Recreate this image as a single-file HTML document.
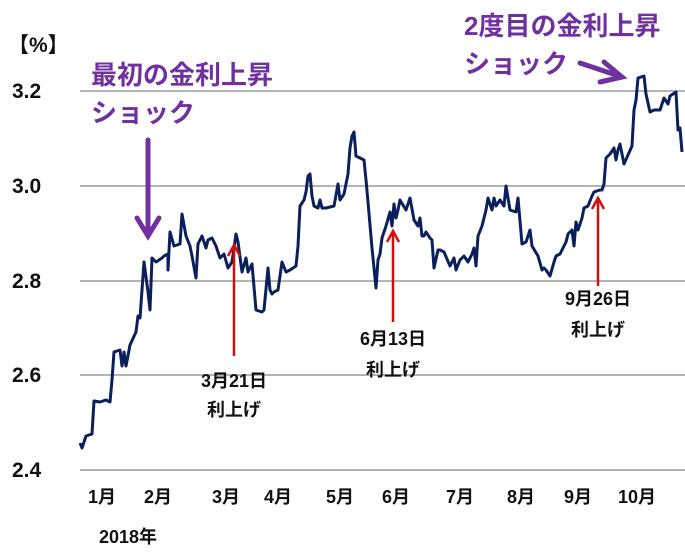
<!DOCTYPE html>
<html><head><meta charset="utf-8"><style>
body{margin:0;background:#fff;}
svg text{font-family:"Liberation Sans","Noto Sans CJK JP",sans-serif;font-weight:bold;}
</style></head><body>
<svg width="685" height="549" viewBox="0 0 685 549" xmlns="http://www.w3.org/2000/svg">
<g stroke="#888" stroke-width="1.2">
<line x1="80" y1="91" x2="690" y2="91"/><line x1="80" y1="186" x2="690" y2="186"/>
<line x1="80" y1="281" x2="690" y2="281"/><line x1="80" y1="375" x2="690" y2="375"/>
<line x1="80" y1="470" x2="690" y2="470"/></g>
<g font-size="21" fill="#111">
<text x="8" y="52">【%】</text>
<text x="12" y="98">3.2</text><text x="12" y="193">3.0</text><text x="12" y="288">2.8</text>
<text x="12" y="382">2.6</text><text x="12" y="477">2.4</text></g>
<g font-size="18" fill="#111" text-anchor="middle">
<text x="102" y="503">1月</text><text x="158" y="503">2月</text><text x="226" y="503">3月</text>
<text x="278" y="503">4月</text><text x="340" y="503">5月</text><text x="396" y="503">6月</text>
<text x="460" y="503">7月</text><text x="521" y="503">8月</text><text x="578" y="503">9月</text>
<text x="637" y="503">10月</text><text x="128" y="543">2018年</text>
<text x="234" y="387">3月21日</text><text x="234" y="416">利上げ</text>
<text x="393" y="345">6月13日</text><text x="393" y="376">利上げ</text>
<text x="598" y="305">9月26日</text><text x="598" y="336">利上げ</text></g>
<polyline fill="none" stroke="#0a1f5c" stroke-width="3" stroke-linejoin="round" points="80,443 82,448 86,436 92,434 94,401 100,402 106,400 110,402 112,380 114,352 120,350 122,366 124,352 126,366 130,345 136,332 138,316 140,318 144,262 148,292 150,310 152,258 156,262 162,258 164,256 168,254 168,270 170,232 174,246 180,244 182,214 186,236 190,246 192,256 196,278 198,244 202,236 206,248 208,240 212,238 216,246 220,258 224,254 228,268 232,262 236,234 238,242 242,272 246,258 248,272 252,264 256,310 262,312 264,310 268,268 270,290 272,294 274,292 278,290 282,262 286,272 290,270 296,266 298,246 300,206 304,200 306,192 308,176 310,174 312,196 314,206 318,208 320,200 322,208 326,208 334,206 338,184 340,200 344,194 348,174 350,148 352,136 354,132 356,156 360,158 364,160 366,180 368,202 372,248 376,288 378,260 380,254 382,238 386,226 390,212 392,226 394,204 396,218 398,210 400,200 406,210 410,198 414,220 418,226 420,218 422,236 424,236 426,232 430,238 432,240 434,268 438,250 440,250 444,252 450,266 454,258 456,270 460,260 464,256 468,262 472,254 474,248 476,266 478,236 482,226 486,210 488,198 492,210 494,198 496,206 500,200 504,206 506,186 510,210 516,212 518,198 522,244 526,242 530,230 532,246 538,256 542,270 544,268 546,270 550,276 554,262 556,256 560,254 564,246 566,242 568,234 572,230 574,246 576,222 578,230 582,218 584,208 588,206 592,196 594,192 600,190 602,190 604,184 606,158 610,154 614,148 616,160 618,150 620,144 624,164 628,155 632,146 634,110 636,100 638,78 644,76 646,94 650,112 654,110 660,110 664,98 668,104 670,96 676,92 678,130 680,128 682,152"/>
<g stroke="#d01010" stroke-width="2.5" fill="none">
<line x1="234" y1="356" x2="234" y2="246"/><polyline points="228,256 234,245 240,256"/>
<line x1="393" y1="322" x2="393" y2="232"/><polyline points="387,242 393,231 399,242"/>
<line x1="598" y1="286" x2="598" y2="199"/><polyline points="592,209 598,198 604,209"/></g>
<g fill="#7030a0" font-size="26">
<text x="91" y="84">最初の金利上昇</text><text x="91" y="122">ショック</text>
<text x="464" y="35">2度目の金利上昇</text><text x="464" y="73">ショック</text></g>
<g stroke="#7030a0" stroke-width="5" fill="none" stroke-linecap="round">
<line x1="148" y1="140" x2="148" y2="236"/><polyline points="137,218 148,236 159,218"/>
<line x1="580" y1="63" x2="622" y2="77"/><polyline points="604,62 622,77 600,82"/></g>
</svg>
</body></html>
